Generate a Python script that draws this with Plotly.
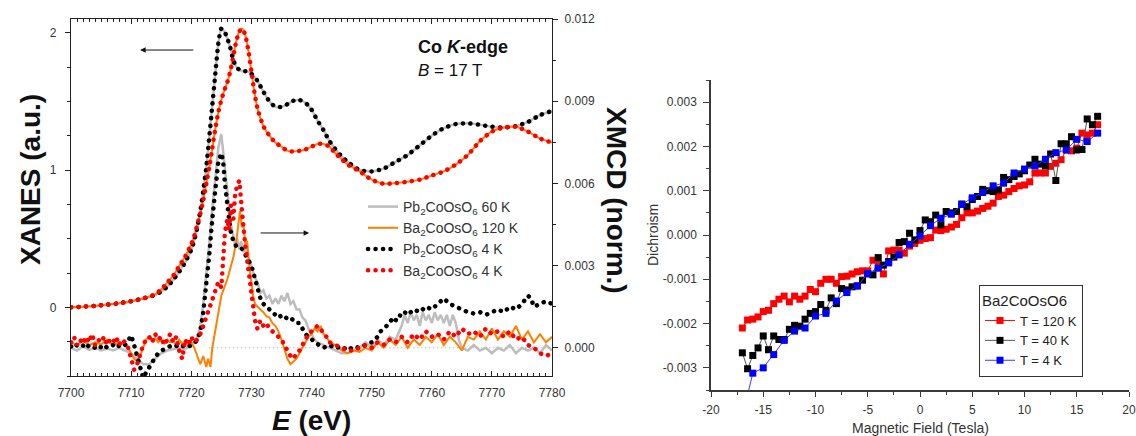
import plotly.graph_objects as go

W, H = 1136, 436
FONT = "Liberation Sans, Arial, sans-serif"
DOT = "0.1px,7.4px"


def px(x):
    return x / W


def py(y):
    return 1 - y / H


def xy(pts):
    return [p[0] for p in pts], [p[1] for p in pts]

# ---------------- Left panel data (E in eV) ----------------
# XANES (left axis, a.u.)
pb_xanes = [(7700, 0.0), (7702, 0.005), (7704, 0.01), (7706, 0.02), (7708, 0.03), (7710, 0.045),
            (7712, 0.065), (7714, 0.09), (7715, 0.115), (7716, 0.15), (7717, 0.2), (7718, 0.26),
            (7719, 0.33), (7720, 0.42), (7720.5, 0.49), (7721, 0.58), (7721.5, 0.7), (7722, 0.85),
            (7722.5, 1.02), (7723, 1.24), (7723.5, 1.47), (7724, 1.7), (7724.5, 1.92), (7725, 2.03),
            (7725.5, 2.01), (7726, 1.96), (7726.5, 1.89), (7727, 1.8), (7727.5, 1.75), (7728, 1.73),
            (7728.5, 1.72), (7729, 1.72), (7729.5, 1.715), (7730, 1.7), (7730.5, 1.68), (7731, 1.65),
            (7732, 1.57), (7733, 1.5), (7734, 1.46), (7735, 1.46), (7736, 1.48), (7737, 1.505),
            (7738, 1.51), (7739, 1.49), (7740, 1.44), (7741, 1.36), (7742, 1.29), (7743, 1.21),
            (7744, 1.15), (7745, 1.1), (7746, 1.06), (7748, 1.0), (7750, 0.99), (7752, 1.01),
            (7754, 1.06), (7756, 1.11), (7758, 1.18), (7760, 1.25), (7762, 1.305), (7764, 1.335),
            (7766, 1.34), (7768, 1.33), (7770, 1.315), (7772, 1.31), (7774, 1.32), (7776, 1.35),
            (7778, 1.4), (7780, 1.43)]

ba_xanes = [(7700, 0.0), (7702, 0.005), (7704, 0.01), (7706, 0.02), (7708, 0.03), (7710, 0.045),
            (7712, 0.065), (7714, 0.095), (7715, 0.13), (7716, 0.18), (7717, 0.23), (7718, 0.3),
            (7719, 0.37), (7720, 0.46), (7720.5, 0.52), (7721, 0.6), (7721.5, 0.68), (7722, 0.78),
            (7722.5, 0.9), (7723, 1.02), (7723.5, 1.16), (7724, 1.3), (7724.5, 1.42), (7725, 1.51),
            (7725.5, 1.58), (7726, 1.64), (7726.5, 1.72), (7727, 1.83), (7727.5, 1.94), (7728, 2.01),
            (7728.5, 2.03), (7729, 1.98), (7729.5, 1.87), (7730, 1.72), (7730.5, 1.57), (7731, 1.45),
            (7732, 1.32), (7733, 1.25), (7734, 1.2), (7735, 1.17), (7736, 1.14), (7737, 1.135),
            (7738, 1.14), (7739, 1.15), (7740, 1.17), (7741, 1.19), (7742, 1.19), (7743, 1.17),
            (7744, 1.12), (7745, 1.08), (7746, 1.04), (7748, 0.99), (7750, 0.93), (7752, 0.9),
            (7754, 0.905), (7756, 0.915), (7758, 0.93), (7760, 0.96), (7762, 0.99), (7764, 1.04),
            (7766, 1.11), (7768, 1.21), (7770, 1.28), (7772, 1.31), (7774, 1.315), (7776, 1.28),
            (7778, 1.23), (7780, 1.2)]

# XMCD (right axis, norm.)
pb60_xmcd = [(7700, 0.0), (7701, -0.0001), (7702, 0.00005), (7703, -0.00008), (7704, 0.0),
             (7705, -0.0001), (7706, -0.00003), (7707, -0.0001), (7708, 0.0), (7709, -0.0001),
             (7710, -0.0002), (7711, -0.0004), (7712, -0.0006), (7713, -0.0006), (7714, -0.0004),
             (7715, -0.0002), (7716, -0.0001), (7717, -0.00005), (7718, 0.0), (7719, -0.00005),
             (7720, 0.0001), (7720.5, 0.0002), (7721, 0.0004), (7721.5, 0.0008), (7722, 0.0016),
             (7722.5, 0.0026), (7723, 0.0038), (7723.5, 0.0051), (7724, 0.0063), (7724.5, 0.0073),
             (7725, 0.0078), (7725.3, 0.0072), (7725.6, 0.0064), (7726, 0.0057), (7726.3, 0.005),
             (7726.6, 0.0045), (7727, 0.0041), (7727.3, 0.0037), (7727.6, 0.004), (7728, 0.0036),
             (7728.3, 0.0039), (7728.6, 0.0035), (7729, 0.0036), (7729.5, 0.0033), (7730, 0.003),
             (7730.5, 0.0026), (7731, 0.0024), (7731.5, 0.002), (7732, 0.0021), (7732.5, 0.0018),
             (7733, 0.0019), (7733.5, 0.0016), (7734, 0.0018), (7734.5, 0.0016), (7735, 0.0019),
             (7735.5, 0.0017), (7736, 0.002), (7736.5, 0.0016), (7737, 0.0017), (7737.5, 0.0014),
             (7738, 0.0014), (7738.5, 0.0011), (7739, 0.001), (7739.5, 0.0007), (7740, 0.0005),
             (7740.5, 0.0003), (7741, 0.0002), (7742, 0.0001), (7743, 0.0), (7744, -0.0001),
             (7745, -0.0002), (7746, -0.0002), (7747, -0.0001), (7748, 0.0), (7749, 0.0002),
             (7750, 0.0), (7751, 0.0003), (7752, 0.0001), (7753, 0.0004), (7754, 0.0003),
             (7755, 0.0008), (7755.5, 0.0012), (7756, 0.0009), (7756.5, 0.0013), (7757, 0.001),
             (7757.5, 0.0012), (7758, 0.0008), (7758.5, 0.0013), (7759, 0.001), (7759.5, 0.0012),
             (7760, 0.0009), (7760.5, 0.0013), (7761, 0.001), (7761.5, 0.0012), (7762, 0.0009),
             (7762.5, 0.0012), (7763, 0.0008), (7763.5, 0.0012), (7764, 0.0009), (7764.5, 0.0003),
             (7765, 0.0), (7766, -0.0001), (7767, 0.0001), (7768, -0.0001), (7769, 0.0),
             (7770, -0.0002), (7771, 0.0), (7772, -0.0001), (7773, 0.0001), (7774, -0.0002),
             (7775, 0.0), (7776, -0.0001), (7777, 0.0), (7778, -0.0002), (7779, 0.0001), (7780, -0.0001)]

ba120_xmcd = [(7700, 0.0002), (7701, 0.0001), (7702, 0.00025), (7703, 0.0001), (7704, 0.0002),
              (7705, 0.00012), (7706, 0.0003), (7707, 0.0001), (7708, 0.0002), (7709, 0.0001),
              (7709.5, 0.0), (7710, -0.0002), (7710.5, -0.0004), (7711, -0.0005), (7711.5, -0.0003),
              (7712, 0.0), (7712.5, 0.0003), (7713, 0.0004), (7713.5, 0.0003), (7714, 0.00035),
              (7714.5, 0.0002), (7715, 0.0003), (7715.5, 0.00015), (7716, 0.0003), (7716.5, 0.0002),
              (7717, 0.00025), (7717.5, 0.0001), (7718, 0.0003), (7718.5, 0.00015), (7719, 0.00025),
              (7719.5, 0.0001), (7720, 0.0002), (7720.5, 0.0), (7721, -0.0003), (7721.5, -0.0006),
              (7722, -0.0003), (7722.5, -0.0007), (7722.8, -0.0004), (7723.2, -0.0007), (7723.5, 0.0),
              (7724, 0.0006), (7724.5, 0.0013), (7725, 0.0019), (7725.5, 0.0022), (7726, 0.0025),
              (7726.5, 0.0029), (7727, 0.0033), (7727.5, 0.0039), (7727.8, 0.0044), (7728.1, 0.005),
              (7728.4, 0.0044), (7728.7, 0.0045), (7729, 0.0037), (7729.3, 0.0039), (7729.6, 0.0031),
              (7730, 0.0024), (7730.3, 0.0019), (7730.6, 0.0016), (7731, 0.0015), (7731.5, 0.0014),
              (7732, 0.0013), (7732.5, 0.00115), (7733, 0.0011), (7733.5, 0.0009), (7734, 0.0008),
              (7734.5, 0.0006), (7735, 0.0003), (7735.5, -0.0001), (7736, -0.0004), (7736.5, -0.0006),
              (7737, -0.0005), (7737.5, -0.0004), (7738, -0.0002), (7738.5, 0.0), (7739, 0.0002),
              (7739.5, 0.0004), (7740, 0.0005), (7740.5, 0.0007), (7741, 0.0006), (7741.5, 0.0008),
              (7742, 0.0005), (7742.5, 0.0004), (7743, 0.0002), (7744, 0.0001), (7745, -0.0001),
              (7746, -0.0002), (7747, -0.0001), (7748, -0.00015), (7749, 0.0), (7750, -0.0001),
              (7751, 0.0002), (7752, 0.0), (7753, 0.0003), (7754, 0.0001), (7755, 0.0004),
              (7756, 0.0), (7757, 0.0003), (7758, 0.0001), (7759, 0.0004), (7760, 0.0002),
              (7761, 0.0005), (7762, 0.0001), (7763, 0.0004), (7764, 0.0002), (7765, -0.0001),
              (7766, 0.0004), (7767, 0.0003), (7768, 0.0006), (7769, 0.0003), (7770, 0.0007),
              (7771, 0.0003), (7772, 0.0006), (7773, 0.0004), (7774, 0.0008), (7775, 0.0003),
              (7776, 0.0006), (7777, 0.0002), (7778, 0.0005), (7779, 0.0002), (7780, 0.0004)]

pb4_xmcd = [(7700, 0.00005), (7700.5, -0.00002), (7701, 0.0001), (7701.5, 0.00003), (7702, 0.00008),
            (7702.5, -0.00003), (7703, 0.0001), (7703.5, 0.00004), (7704, 0.0), (7704.5, 0.00009),
            (7705, 0.00002), (7705.5, 0.00011), (7706, 0.0), (7706.5, 0.00006), (7707, 0.0001),
            (7707.5, 0.0), (7708, 0.00008), (7708.5, 0.00003), (7709, 0.0001), (7709.5, 0.00025),
            (7710, 0.00045), (7710.5, 0.0001), (7711, -0.0003), (7711.5, -0.0007), (7712, -0.0011),
            (7712.5, -0.0009), (7713, -0.0007), (7713.5, -0.0005), (7714, -0.00035), (7714.5, -0.0002),
            (7715, -0.0001), (7715.5, -0.00005), (7716, 0.0), (7716.5, 0.00006), (7717, 0.00003),
            (7717.5, 0.00008), (7718, 0.0), (7718.5, 0.00005), (7719, 0.0001), (7719.5, 0.00004),
            (7720, 0.0001), (7720.5, 0.00015), (7721, 0.0003), (7721.5, 0.0006), (7722, 0.0013),
            (7722.5, 0.0022), (7723, 0.0034), (7723.5, 0.0047), (7724, 0.0059), (7724.5, 0.0068),
            (7725, 0.0071), (7725.3, 0.0068), (7725.6, 0.006), (7726, 0.0051), (7726.5, 0.0043),
            (7727, 0.0039), (7727.5, 0.0037), (7728, 0.0037), (7728.5, 0.0036), (7729, 0.0034),
            (7729.5, 0.0032), (7730, 0.003), (7730.5, 0.0026), (7731, 0.0022), (7731.5, 0.0018),
            (7732, 0.0016), (7732.5, 0.0015), (7733, 0.0014), (7733.5, 0.0013), (7734, 0.0012),
            (7734.5, 0.00125), (7735, 0.0011), (7735.5, 0.00115), (7736, 0.00105), (7736.5, 0.0011),
            (7737, 0.001), (7737.5, 0.0009), (7738, 0.0009), (7738.5, 0.0007), (7739, 0.0005),
            (7739.5, 0.0004), (7740, 0.0003), (7740.5, 0.0002), (7741, 0.0001), (7741.5, 0.00005),
            (7742, 0.0), (7743, 0.0001), (7744, -0.00002), (7745, 0.00006), (7746, -0.0001),
            (7747, 0.00005), (7748, 0.0), (7749, 0.0001), (7750, 0.0002), (7750.5, 0.0003),
            (7751, 0.0004), (7751.5, 0.0006), (7752, 0.0007), (7752.5, 0.0008), (7753, 0.0009),
            (7753.5, 0.0011), (7754, 0.001), (7754.5, 0.0012), (7755, 0.00115), (7755.5, 0.0013),
            (7756, 0.0012), (7757, 0.0014), (7758, 0.0013), (7759, 0.0015), (7760, 0.0014),
            (7761, 0.0016), (7762, 0.0018), (7762.5, 0.0017), (7763, 0.0016), (7764, 0.0015),
            (7765, 0.0014), (7766, 0.0013), (7767, 0.00125), (7768, 0.0013), (7769, 0.0012),
            (7770, 0.0013), (7771, 0.0014), (7772, 0.0013), (7773, 0.0015), (7774, 0.0014),
            (7775, 0.0016), (7776, 0.0019), (7776.5, 0.0018), (7777, 0.0015), (7778, 0.0016),
            (7779, 0.0017), (7780, 0.0016)]

ba4_xmcd = [(7700, 0.0002), (7700.5, 0.0004), (7701, 0.0001), (7701.5, 0.0003), (7702, 0.00015),
            (7702.5, 0.0004), (7703, 0.0002), (7703.5, 0.0005), (7704, 0.0001), (7704.5, 0.0003),
            (7705, 0.0002), (7705.5, 0.0004), (7706, 0.0001), (7706.5, 0.0003), (7707, 0.0002),
            (7707.5, 0.0004), (7708, 0.0001), (7708.5, 0.0003), (7709, 0.0002), (7709.5, 0.0),
            (7710, -0.0004), (7710.5, -0.0008), (7711, -0.0006), (7711.5, -0.0002), (7712, 0.0001),
            (7712.5, 0.0003), (7713, 0.0004), (7713.5, 0.0002), (7714, 0.0005), (7714.5, 0.0003),
            (7715, 0.0004), (7715.5, 0.0001), (7716, 0.0003), (7716.5, 0.0005), (7717, 0.0002),
            (7717.5, 0.0004), (7718, -0.0001), (7718.5, -0.0004), (7719, 0.0003), (7719.5, 0.0001),
            (7720, 0.0004), (7720.5, 0.0002), (7721, 0.0003), (7721.5, 0.0005), (7722, 0.0008),
            (7722.5, 0.0011), (7723, 0.0014), (7723.5, 0.0018), (7724, 0.0021), (7724.5, 0.0024),
            (7725, 0.0022), (7725.3, 0.0032), (7725.6, 0.0042), (7726, 0.0047), (7726.3, 0.0043),
            (7726.6, 0.0052), (7727, 0.0047), (7727.3, 0.0056), (7727.6, 0.0059), (7728, 0.0061),
            (7728.3, 0.0055), (7728.6, 0.0046), (7729, 0.0037), (7729.3, 0.0032), (7729.6, 0.0026),
            (7730, 0.0019), (7730.3, 0.0014), (7730.6, 0.001), (7731, 0.0007), (7731.5, 0.001),
            (7732, 0.0008), (7732.5, 0.0009), (7733, 0.0007), (7733.5, 0.0006), (7734, 0.0005),
            (7734.5, 0.0004), (7735, 0.0003), (7735.5, 0.0001), (7736, -0.0001), (7736.5, -0.0003),
            (7737, -0.0004), (7737.5, -0.0002), (7738, -0.0001), (7738.5, 0.0001), (7739, 0.0003),
            (7739.5, 0.0005), (7740, 0.0006), (7740.5, 0.0007), (7741, 0.0008), (7741.5, 0.0007),
            (7742, 0.0005), (7742.5, 0.0004), (7743, 0.0002), (7744, 0.0001), (7745, 0.0),
            (7746, -0.0001), (7747, -0.0001), (7748, 0.0), (7749, 0.0001), (7750, 0.0),
            (7751, 0.0002), (7752, 0.0001), (7753, 0.0003), (7754, 0.0002), (7755, 0.0004),
            (7756, 0.0002), (7757, 0.0005), (7758, 0.0003), (7759, 0.0006), (7760, 0.0004),
            (7761, 0.0005), (7762, 0.0003), (7763, 0.0006), (7764, 0.0004), (7765, 0.0007),
            (7766, 0.0005), (7767, 0.0006), (7768, 0.0004), (7769, 0.0007), (7770, 0.0005),
            (7771, 0.0006), (7772, 0.0004), (7773, 0.0006), (7774, 0.0003), (7775, 0.0004),
            (7776, 0.0001), (7777, 0.0), (7778, -0.0002), (7779, -0.0003), (7780, -0.0002)]

zero_ref = [(7723, 0.0), (7780, 0.0)]

left_names = ["Pb<sub>2</sub>CoOsO<sub>6</sub> 60 K", "Ba<sub>2</sub>CoOsO<sub>6</sub> 120 K",
              "Pb<sub>2</sub>CoOsO<sub>6</sub> 4 K", "Ba<sub>2</sub>CoOsO<sub>6</sub> 4 K"]

# ---------------- Right panel data (field in Tesla) ----------------
t120 = [(-17, -0.0021), (-16.5, -0.00192), (-16, -0.0019), (-15.5, -0.00185), (-15, -0.00173),
        (-14.5, -0.0017), (-14, -0.00155), (-13.5, -0.00145), (-13, -0.00138), (-12.5, -0.00151),
        (-12, -0.00138), (-11.5, -0.00145), (-11, -0.00138), (-10.5, -0.00123), (-10, -0.00128),
        (-9.5, -0.00109), (-9, -0.001), (-8.5, -0.001), (-8, -0.00109), (-7.5, -0.00094),
        (-7, -0.00093), (-6.5, -0.00088), (-6, -0.00083), (-5.5, -0.00081), (-5, -0.00081),
        (-4.5, -0.00057), (-4, -0.00064), (-3.5, -0.00088), (-3, -0.00036), (-2.5, -0.00034),
        (-2, -0.00034), (-1.5, -0.00041), (-1, -0.00025), (-0.5, -0.00019), (0, -0.00012),
        (0.5, -0.00008), (1, -0.00006), (1.5, 0.00011), (2, 0.0001), (2.5, 0.00013),
        (3, 0.00018), (3.5, 0.00024), (4, 0.00039), (4.5, 0.0005), (5, 0.0005),
        (5.5, 0.00054), (6, 0.0006), (6.5, 0.00065), (7, 0.00072), (7.5, 0.00087),
        (8, 0.0009), (8.5, 0.00098), (9, 0.00105), (9.5, 0.00111), (10, 0.00113),
        (10.5, 0.0012), (11, 0.0014), (11.5, 0.0014), (12, 0.0014), (12.5, 0.00155),
        (13, 0.00162), (13.5, 0.0017), (14, 0.00192), (14.5, 0.0019), (15, 0.00196),
        (15.5, 0.0023), (16, 0.00226), (16.5, 0.0023), (17, 0.00249)]

t40 = [(-17, -0.00266), (-16.5, -0.00302), (-16, -0.00272), (-15.5, -0.00255), (-15, -0.00228),
       (-14.5, -0.00259), (-14, -0.00228), (-13.5, -0.00236), (-13, -0.00236), (-12.5, -0.00213),
       (-12, -0.00204), (-11.5, -0.00206), (-11, -0.0019), (-10.5, -0.00177), (-10, -0.00173),
       (-9.5, -0.00157), (-9, -0.0017), (-8.5, -0.00142), (-8, -0.00155), (-7.5, -0.00121),
       (-7, -0.00124), (-6.5, -0.00117), (-6, -0.00115), (-5.5, -0.00102), (-5, -0.00088),
       (-4.5, -0.0009), (-4, -0.00051), (-3.5, -0.00068), (-3, -0.0006), (-2.5, -0.0005),
       (-2, -0.00017), (-1.5, -0.00015), (-1, 0.00004), (-0.5, -0.00011), (0, 0.0001),
       (0.5, 0.00034), (1, 0.0003), (1.5, 0.00045), (2, 0.00023), (2.5, 0.00053),
       (3, 0.0005), (3.5, 0.00053), (4, 0.0007), (4.5, 0.00064), (5, 0.0008),
       (5.5, 0.00087), (6, 0.00103), (6.5, 0.001), (7, 0.00098), (7.5, 0.00102),
       (8, 0.0013), (8.5, 0.00125), (9, 0.00132), (9.5, 0.00138), (10, 0.00145),
       (10.5, 0.00158), (11, 0.00171), (11.5, 0.0016), (12, 0.00156), (12.5, 0.00183),
       (13, 0.00123), (13.5, 0.00206), (14, 0.00206), (14.5, 0.00222), (15, 0.00192),
       (15.5, 0.00193), (16, 0.00262), (16.5, 0.00249), (17, 0.00268)]

t4 = [(-17, -0.0041), (-16, -0.00312), (-15, -0.003), (-14, -0.0027), (-13, -0.00238),
      (-12, -0.00217), (-11, -0.0021), (-10, -0.00183), (-9, -0.00177), (-8, -0.00149),
      (-7, -0.0013), (-6, -0.00115), (-5, -0.00087), (-4, -0.00075), (-3, -0.00063),
      (-2, -0.00045), (-1, -0.00021), (0, -0.00002), (1, 0.00021), (2, 0.00038),
      (3, 0.00047), (4, 0.00069), (5, 0.00084), (6, 0.00096), (7, 0.00111),
      (8, 0.00117), (9, 0.0014), (10, 0.00149), (11, 0.00156), (12, 0.00171),
      (13, 0.00186), (14, 0.00192), (15, 0.00216), (16, 0.00211), (17, 0.0023)]

right_names = ["T = 120 K", "T = 40 K", "T = 4 K"]
right_legend_title = "Ba2CoOsO6"

field_tickvals = [-20, -15, -10, -5, 0, 5, 10, 15, 20]
field_ticktext = ["-20", "-15", "-10", "-5", "0", "5", "10", "15", "20"]
dich_tickvals = [-0.003, -0.002, -0.001, 0.0, 0.001, 0.002, 0.003]
dich_ticktext = ["-0.003", "-0.002", "-0.001", "0.000", "0.001", "0.002", "0.003"]

# ---------------- Figure ----------------
fig = go.Figure()

x, y = xy(zero_ref)
fig.add_trace(go.Scatter(x=x, y=y, xaxis="x", yaxis="y2", mode="lines", showlegend=False,
                         line=dict(color="#a0a0a0", width=1, dash="1px,3px"), hoverinfo="skip"))

# XANES
x, y = xy(pb_xanes)
fig.add_trace(go.Scatter(x=x, y=y, xaxis="x", yaxis="y", mode="lines", showlegend=False,
                         line=dict(color="#bdbdbd", width=2.5, shape="spline", smoothing=0.6)))
x, y = xy(ba_xanes)
fig.add_trace(go.Scatter(x=x, y=y, xaxis="x", yaxis="y", mode="lines", showlegend=False,
                         line=dict(color="#ff8000", width=2, shape="spline", smoothing=0.6)))
x, y = xy(pb_xanes)
fig.add_trace(go.Scatter(x=x, y=y, xaxis="x", yaxis="y", mode="lines", showlegend=False,
                         line=dict(color="black", width=4.5, dash=DOT, shape="spline", smoothing=0.6)))
x, y = xy(ba_xanes)
fig.add_trace(go.Scatter(x=x, y=y, xaxis="x", yaxis="y", mode="lines", showlegend=False,
                         line=dict(color="#ff0000", width=4.5, dash=DOT, shape="spline", smoothing=0.6)))

# XMCD
x, y = xy(pb60_xmcd)
fig.add_trace(go.Scatter(x=x, y=y, xaxis="x", yaxis="y2", mode="lines", name=left_names[0],
                         legend="legend", line=dict(color="#bdbdbd", width=2.5)))
x, y = xy(ba120_xmcd)
fig.add_trace(go.Scatter(x=x, y=y, xaxis="x", yaxis="y2", mode="lines", name=left_names[1],
                         legend="legend", line=dict(color="#ff8000", width=2)))
x, y = xy(pb4_xmcd)
fig.add_trace(go.Scatter(x=x, y=y, xaxis="x", yaxis="y2", mode="lines", name=left_names[2],
                         legend="legend", line=dict(color="black", width=4.5, dash=DOT)))
x, y = xy(ba4_xmcd)
fig.add_trace(go.Scatter(x=x, y=y, xaxis="x", yaxis="y2", mode="lines", name=left_names[3],
                         legend="legend", line=dict(color="#ff0000", width=4.5, dash=DOT)))

# Right panel
for pts, name, mcol, lcol in [(t120, right_names[0], "#ff0000", "#ff0000"),
                              (t40, right_names[1], "#000000", "#555555"),
                              (t4, right_names[2], "#0000ff", "#3a3aff")]:
    x, y = xy(pts)
    fig.add_trace(go.Scatter(x=x, y=y, xaxis="x2", yaxis="y3", mode="lines+markers", name=name,
                             legend="legend2", line=dict(color=lcol, width=1),
                             marker=dict(symbol="square", size=7, color=mcol, line=dict(width=0))))

AX = "#222222"
AX2 = "#3a3a3a"
tickfont = dict(family=FONT, size=12, color="#333333")

fig.update_layout(
    template="none",
    width=W, height=H, autosize=False,
    margin=dict(l=0, r=0, t=0, b=0, pad=0, autoexpand=False),
    paper_bgcolor="white", plot_bgcolor="white",
    font=dict(family=FONT, color="#222222"),
    xaxis=dict(domain=[px(71), px(552)], range=[7700, 7780], anchor="y", automargin=False,
               tickmode="linear", tick0=7700, dtick=10, ticks="inside", ticklen=5, tickwidth=1,
               tickcolor=AX, showline=True, linecolor=AX, linewidth=1.3, mirror="ticks",
               minor=dict(dtick=1, tick0=7700, ticks="inside", ticklen=3, tickcolor=AX, tickwidth=1,
                          showgrid=False),
               showgrid=False, zeroline=False, tickfont=tickfont, ticklabelstandoff=5),
    yaxis=dict(domain=[py(376), py(19)], range=[-0.5, 2.1], anchor="x", automargin=False,
               tickmode="linear", tick0=0, dtick=1, ticks="outside", ticklen=5, tickwidth=1,
               tickcolor=AX, showline=True, linecolor=AX, linewidth=1.3,
               minor=dict(dtick=0.25, tick0=0, ticks="outside", ticklen=3, tickcolor=AX,
                          showgrid=False),
               showgrid=False, zeroline=False, tickfont=tickfont, ticklabelstandoff=6),
    yaxis2=dict(overlaying="y", side="right", anchor="x", range=[-0.00103, 0.012], automargin=False,
                tickmode="linear", tick0=0, dtick=0.003, tickformat=".3f", ticks="outside",
                ticklen=5, tickwidth=1, tickcolor=AX, showline=True, linecolor=AX, linewidth=1.3,
                minor=dict(dtick=0.0015, tick0=0, ticks="outside", ticklen=3, tickcolor=AX,
                           showgrid=False),
                showgrid=False, zeroline=False, tickfont=tickfont, ticklabelstandoff=4),
    xaxis2=dict(domain=[px(711), px(1129)], range=[-20, 20], anchor="y3", automargin=False,
                tickmode="array", tickvals=field_tickvals, ticktext=field_ticktext,
                ticks="outside", ticklen=5, tickwidth=1, tickcolor=AX2, showline=True,
                linecolor=AX2, linewidth=1.5,
                minor=dict(dtick=2.5, tick0=0, ticks="outside", ticklen=3, tickcolor=AX2,
                           showgrid=False),
                showgrid=False, zeroline=False, tickfont=tickfont, ticklabelstandoff=3),
    yaxis3=dict(domain=[py(390), py(80)], range=[-0.0035, 0.0035], anchor="x2", automargin=False,
                tickmode="array", tickvals=dich_tickvals, ticktext=dich_ticktext,
                ticks="outside", ticklen=6, tickwidth=1, tickcolor=AX2, showline=True,
                linecolor=AX2, linewidth=1.5,
                minor=dict(dtick=0.0005, tick0=0, ticks="outside", ticklen=3, tickcolor=AX2,
                           showgrid=False),
                showgrid=False, zeroline=False, tickfont=tickfont, ticklabelstandoff=4),
    legend=dict(x=px(363), y=py(191), xanchor="left", yanchor="top",
                bgcolor="rgba(0,0,0,0)", borderwidth=0,
                font=dict(family=FONT, size=14, color="#333333"), tracegroupgap=0),
    legend2=dict(x=px(979), y=py(285), xanchor="left", yanchor="top",
                 bgcolor="white", bordercolor="#333333", borderwidth=1,
                 title=dict(text=right_legend_title, font=dict(family=FONT, size=15, color="#222222")),
                 font=dict(family=FONT, size=13, color="#222222"), tracegroupgap=0),
)

annotations = [
    dict(x=px(416), y=py(47), xref="paper", yref="paper", xanchor="left", yanchor="middle",
         text="<b>Co <i>K</i>-edge</b>", showarrow=False, font=dict(family=FONT, size=18, color="#111")),
    dict(x=px(416), y=py(71), xref="paper", yref="paper", xanchor="left", yanchor="middle",
         text="<i>B</i> = 17 T", showarrow=False, font=dict(family=FONT, size=17, color="#111")),
    dict(x=px(30), y=py(180), xref="paper", yref="paper", xanchor="center", yanchor="middle",
         text="<b>XANES (a.u.)</b>", textangle=-90, showarrow=False,
         font=dict(family=FONT, size=28, color="#111")),
    dict(x=px(617), y=py(200), xref="paper", yref="paper", xanchor="center", yanchor="middle",
         text="<b>XMCD (norm.)</b>", textangle=90, showarrow=False,
         font=dict(family=FONT, size=28, color="#111")),
    dict(x=px(311), y=py(420), xref="paper", yref="paper", xanchor="center", yanchor="middle",
         text="<b><i>E</i> (eV)</b>", showarrow=False, font=dict(family=FONT, size=28, color="#111")),
    dict(x=px(653), y=py(235), xref="paper", yref="paper", xanchor="center", yanchor="middle",
         text="Dichroism", textangle=-90, showarrow=False, font=dict(family=FONT, size=14, color="#333")),
    dict(x=px(921), y=py(428), xref="paper", yref="paper", xanchor="center", yanchor="middle",
         text="Magnetic Field (Tesla)", showarrow=False, font=dict(family=FONT, size=14, color="#333")),
    # arrows pointing to the axis of each curve family
    dict(x=7711.5, y=1.874, xref="x", yref="y", ax=7720.6, ay=1.874, axref="x", ayref="y",
         text="", showarrow=True, arrowhead=2, arrowsize=1.1, arrowwidth=1, arrowcolor="#111"),
    dict(x=7739.6, y=0.00419, xref="x", yref="y2", ax=7731.3, ay=0.00419, axref="x", ayref="y2",
         text="", showarrow=True, arrowhead=2, arrowsize=1.1, arrowwidth=1, arrowcolor="#111"),
]
fig.update_layout(annotations=annotations)

post_js = """
document.documentElement.style.margin = '0';
document.documentElement.style.padding = '0';
document.body.style.margin = '0';
document.body.style.padding = '0';
document.body.style.overflow = 'hidden';
var gd = document.getElementById('{plot_id}');
function roundDots(){
  gd.querySelectorAll('path').forEach(function(p){
    var d = p.style.strokeDasharray || '';
    if (d.indexOf('0.1px') === 0) { p.style.strokeLinecap = 'round'; }
  });
}
roundDots();
if (gd.on) { gd.on('plotly_afterplot', roundDots); }
"""

fig.write_html("out.html", post_script=post_js, config={"displayModeBar": False})
